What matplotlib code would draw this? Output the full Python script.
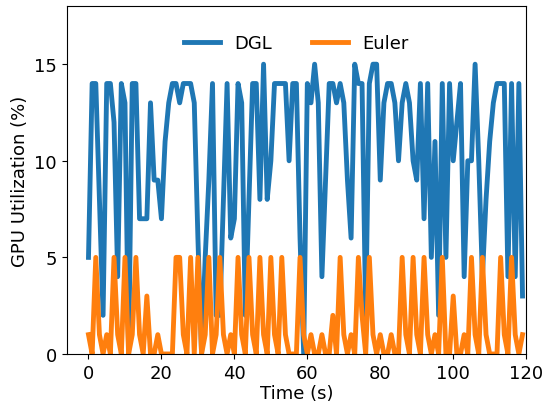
# GPU utilization over time, DGL vs Euler

import numpy as np
import matplotlib.pyplot as plt

# per-second samples
time_s = np.arange(120)

dgl = [5, 14, 14, 8, 2, 14, 14, 12, 4, 14,
       13, 0, 14, 14, 7, 7, 7, 13, 9, 9,
       7, 11, 13, 14, 14, 13, 14, 14, 14, 13,
       6, 0, 5, 9, 14, 2, 2, 8, 14, 6,
       7, 14, 13, 2, 8, 14, 14, 8, 15, 8,
       10, 14, 14, 14, 14, 10, 14, 14, 6, 0,
       14, 13, 15, 13, 4, 9, 14, 14, 13, 14,
       13, 9, 6, 15, 14, 14, 2, 14, 15, 15,
       9, 13, 14, 14, 13, 10, 13, 14, 13, 10,
       9, 14, 7, 14, 5, 11, 2, 14, 5, 14,
       10, 12, 14, 4, 10, 10, 15, 10, 4, 8,
       11, 13, 14, 14, 14, 4, 14, 4, 14, 3]

euler = [1, 0, 5, 1, 0, 1, 0, 5, 1, 0,
         5, 0, 1, 5, 1, 0, 3, 0, 0, 1,
         0, 0, 0, 0, 5, 5, 1, 0, 5, 0,
         5, 0, 1, 5, 0, 1, 5, 1, 0, 1,
         0, 5, 1, 0, 5, 1, 0, 5, 1, 0,
         5, 1, 0, 5, 1, 0, 0, 0, 5, 1,
         0, 1, 0, 0, 1, 0, 0, 2, 0, 5,
         1, 0, 1, 0, 5, 2, 0, 5, 1, 0,
         1, 0, 0, 1, 0, 0, 5, 1, 0, 5,
         1, 0, 5, 1, 0, 1, 0, 5, 0, 0,
         3, 0, 0, 1, 0, 5, 1, 0, 5, 1,
         0, 0, 0, 5, 1, 0, 5, 1, 0, 1]

fig = plt.figure(figsize=(5.43, 4.02), dpi=100)
ax = fig.add_subplot(111)
fig.subplots_adjust(left=0.123, right=0.969, bottom=0.117, top=0.982)

ax.plot(time_s, dgl, label='DGL', color='tab:blue', linewidth=3.5)
ax.plot(time_s, euler, label='Euler', color='tab:orange', linewidth=3.5)

ax.set_xlim(-5.95, 120)
ax.set_ylim(0, 18)
ax.set_yticks([0, 5, 10, 15])
ax.set_xticks([0, 20, 40, 60, 80, 100, 120])
ax.tick_params(labelsize=13)

ax.set_xlabel('Time (s)', fontsize=13, labelpad=2)
ax.set_ylabel('GPU Utilization (%)', fontsize=13)
ax.legend(loc='upper center', ncol=2, frameon=False, fontsize=13,
          handlelength=2.0, columnspacing=2.2, bbox_to_anchor=(0.5, 0.966))

plt.savefig('out.png', dpi=100)
